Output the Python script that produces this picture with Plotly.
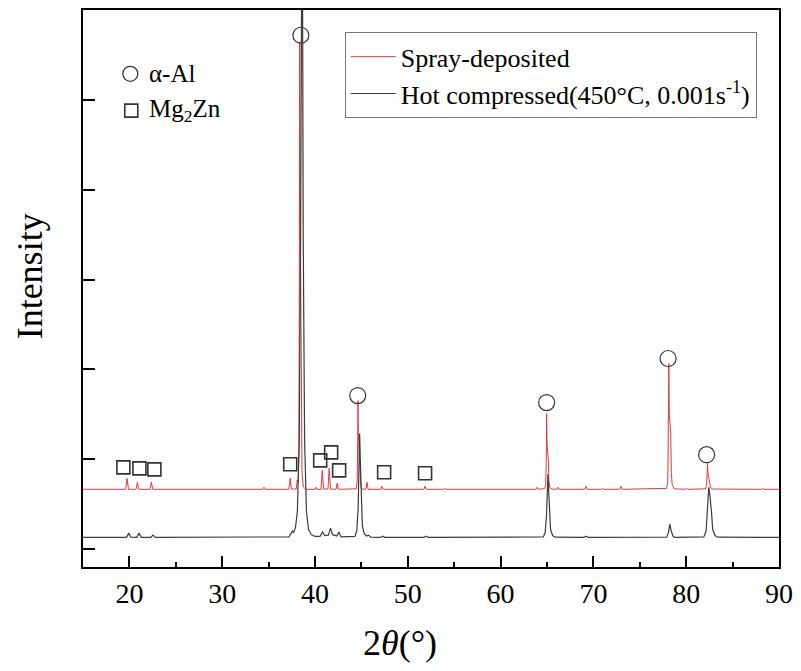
import plotly.graph_objects as go

# XRD patterns: (2theta, intensity) vertices of each scan
spray_2theta = [
    15.0, 19.6, 19.75, 19.9, 20.72, 20.86, 21.0, 22.23, 22.37, 22.51,
    34.38, 34.5, 34.62, 37.18, 37.33, 37.45, 37.98, 38.08, 38.18, 38.27,
    38.31, 38.35, 38.40, 38.46, 38.52, 38.6, 38.75, 39.0,
    40.0, 40.1, 40.2, 40.65, 40.78, 40.92, 41.4, 41.53, 41.67, 42.27, 42.39, 42.51,
    44.45, 44.55, 44.6, 44.63, 44.67, 44.73, 44.8, 44.86, 44.95, 45.1,
    45.48, 45.6, 45.72, 47.08, 47.2, 47.32, 51.74, 51.86, 51.98, 53.9, 54.0, 54.1,
    63.8, 63.92, 64.04, 64.75, 64.86, 64.92, 64.96, 65.0, 65.06, 65.14, 65.2, 65.3, 65.45,
    66.06, 66.18, 66.3, 69.08, 69.2, 69.32, 70.9, 71.0, 71.1, 72.84, 72.96, 73.08,
    77.9, 78.02, 78.08, 78.13, 78.18, 78.25, 78.33, 78.4, 78.5, 78.7,
    79.97, 80.07, 80.17, 82.1, 82.2, 82.26, 82.29, 82.34, 82.42, 82.5, 82.62, 82.8,
    88.13, 88.25, 88.37, 90.0,
]
spray_intensity = [
    665, 665, 787, 665, 665, 743, 665, 665, 743, 665,
    665, 688, 665, 665, 787, 668, 668, 765, 740, 1100,
    3000, 5645, 3600, 3000, 1500, 850, 690, 665,
    665, 688, 665, 665, 876, 668, 668, 898, 668, 665, 732, 665,
    670, 760, 1200, 1652, 1300, 1150, 1000, 760, 690, 668,
    665, 743, 665, 665, 699, 665, 665, 699, 665, 665, 676, 665,
    665, 688, 665, 672, 720, 950, 1508, 1200, 1087, 1000, 760, 690, 668,
    665, 688, 665, 665, 699, 665, 665, 676, 665, 665, 699, 665,
    675, 760, 1200, 2063, 1500, 1375, 1300, 850, 710, 670,
    665, 676, 665, 670, 720, 850, 954, 860, 798, 740, 690, 668,
    665, 676, 665, 665,
]

hot_2theta = [
    15.0, 19.7, 19.93, 20.15, 20.8, 21.04, 21.28, 22.3, 22.55, 22.8,
    37.2, 37.45, 37.58, 37.7, 37.9, 38.1, 38.3, 38.45, 38.52, 38.59,
    38.66, 38.73, 38.88, 39.08, 39.3, 39.6, 40.0,
    40.55, 40.81, 41.05, 41.45, 41.67, 41.9, 42.35, 42.57, 42.8,
    44.3, 44.5, 44.65, 44.73, 44.81, 44.88, 44.96, 45.1, 45.3, 45.55, 45.78, 46.0,
    47.1, 47.31, 47.52, 51.75, 51.97, 52.2,
    64.6, 64.8, 64.95, 65.03, 65.1, 65.17, 65.25, 65.38, 65.6, 65.9,
    69.0, 69.2, 69.4, 72.8, 73.0, 73.2,
    77.9, 78.08, 78.24, 78.38, 78.6, 78.8,
    81.9, 82.15, 82.3, 82.43, 82.55, 82.62, 82.72, 82.85, 83.1, 83.4, 90.0,
]
hot_intensity = [
    130, 130, 177, 132, 130, 177, 130, 130, 155, 130,
    135, 170, 200, 185, 240, 420, 1200, 3500, 6200, 7200,
    6200, 3500, 1200, 420, 220, 160, 140,
    140, 189, 150, 155, 233, 160, 145, 189, 135,
    140, 200, 450, 900, 1286, 1000, 600, 260, 170, 145, 155, 132,
    130, 144, 130, 130, 144, 130,
    135, 180, 380, 650, 832, 680, 420, 220, 150, 132,
    130, 144, 130, 130, 138, 130,
    132, 180, 277, 200, 140, 130,
    135, 200, 450, 688, 600, 543, 420, 220, 150, 132, 130,
]

# Phase identification marks
al_2theta = [38.48, 44.6, 64.96, 78.05, 82.2]
al_intensity = [5719, 1708, 1630, 2121, 1050]
mg2zn_2theta = [19.35, 21.08, 22.69, 37.33, 40.56, 41.74, 42.6, 47.45, 51.86]
mg2zn_intensity = [909, 898, 887, 943, 987, 1076, 876, 854, 843]

x_ticks = [20, 30, 40, 50, 60, 70, 80, 90]
x_minor = [25, 35, 45, 55, 65, 75, 85]
y_ticks = [0, 1000, 2000, 3000, 4000, 5000]

FONT = "Liberation Serif"
MARK = "#333333"

fig = go.Figure()
fig.add_trace(go.Scatter(
    x=spray_2theta, y=spray_intensity, mode="lines",
    name="Spray-deposited", line=dict(color="#e03a3a", width=1),
))
fig.add_trace(go.Scatter(
    x=hot_2theta, y=hot_intensity, mode="lines",
    name="Hot compressed(450°C, 0.001s<sup>-1</sup>)",
    line=dict(color="#3c3c3c", width=1.2),
))
fig.add_trace(go.Scatter(
    x=al_2theta, y=al_intensity, mode="markers", showlegend=False,
    marker=dict(symbol="circle-open", size=16, color=MARK, line=dict(width=1.2)),
))
fig.add_trace(go.Scatter(
    x=mg2zn_2theta, y=mg2zn_intensity, mode="markers", showlegend=False,
    marker=dict(symbol="square-open", size=13, color=MARK, line=dict(width=1.6)),
))
# phase key
fig.add_trace(go.Scatter(
    x=[20.1], y=[5290], mode="markers", showlegend=False,
    marker=dict(symbol="circle-open", size=15, color=MARK, line=dict(width=1.2)),
))
fig.add_trace(go.Scatter(
    x=[20.2], y=[4880], mode="markers", showlegend=False,
    marker=dict(symbol="square-open", size=13, color=MARK, line=dict(width=1.6)),
))

fig.add_annotation(x=21.9, y=5290, text="α-Al", showarrow=False,
                   xanchor="left", yanchor="middle",
                   font=dict(family=FONT, size=25, color="black"))
fig.add_annotation(x=21.9, y=4880, text="Mg<sub>2</sub>Zn", showarrow=False,
                   xanchor="left", yanchor="middle",
                   font=dict(family=FONT, size=25, color="black"))
# axis titles
fig.add_annotation(x=49.2, y=-0.136, xref="x", yref="paper",
                   text="2<i>θ</i>(°)", showarrow=False,
                   xanchor="center", yanchor="middle",
                   font=dict(family=FONT, size=36, color="black"))
fig.add_annotation(x=-0.076, y=0.522, xref="paper", yref="paper",
                   text="Intensity", textangle=-90, showarrow=False,
                   xanchor="center", yanchor="middle",
                   font=dict(family=FONT, size=36, color="black"))

fig.update_layout(
    width=801, height=671,
    margin=dict(l=83, r=22, t=8, b=104),
    paper_bgcolor="white", plot_bgcolor="white",
    font=dict(family=FONT, color="black"),
    legend=dict(
        x=0.376, y=0.96, xanchor="left", yanchor="top",
        bordercolor="#777777", borderwidth=1, bgcolor="white",
        font=dict(family=FONT, size=26, color="black"),
        tracegroupgap=0, itemwidth=45,
    ),
)
fig.update_xaxes(
    range=[15, 90], tickvals=x_ticks, ticktext=[str(v) for v in x_ticks],
    ticks="inside", ticklen=11, tickwidth=2, tickcolor="black",
    minor=dict(tickvals=x_minor, ticks="inside",
               ticklen=5, tickwidth=2, tickcolor="black"),
    showline=True, linecolor="black", linewidth=2, mirror=True,
    showgrid=False, zeroline=False,
    tickfont=dict(family=FONT, size=28, color="black"),
)
fig.update_yaxes(
    range=[-200, 6000], tickvals=y_ticks, showticklabels=False,
    ticks="inside", ticklen=12, tickwidth=2, tickcolor="black",
    showline=True, linecolor="black", linewidth=2, mirror=True,
    showgrid=False, zeroline=False,
)

fig.write_html("out.html")
